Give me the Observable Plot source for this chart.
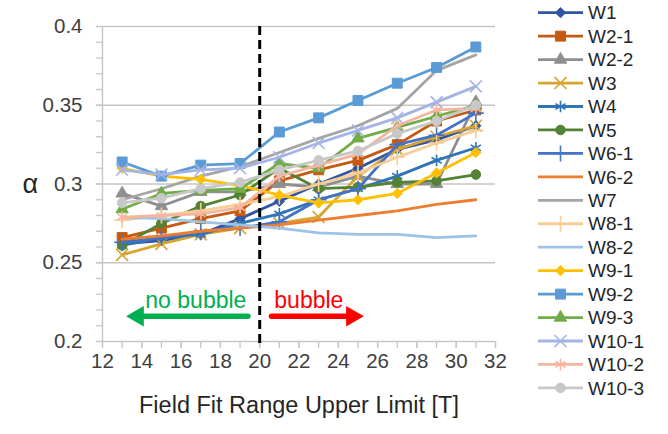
<!DOCTYPE html>
<html><head><meta charset="utf-8">
<script src="https://cdn.jsdelivr.net/npm/d3@7"></script>
<script src="https://cdn.jsdelivr.net/npm/@observablehq/plot@0.6"></script>
<style>
body{margin:0;background:#fff;font-family:"Liberation Sans",Arial,sans-serif;}
#wrap{position:relative;width:668px;height:434px;overflow:hidden;}
#wrap svg{position:absolute;left:0;top:0;}
</style></head><body><div id="wrap"></div>
<script>
// ---- data ----
const fieldLimits = [13, 15, 17, 19, 21, 23, 25, 27, 29, 31];
const seriesNames = ["W1","W2-1","W2-2","W3","W4","W5","W6-1","W6-2","W7","W8-1","W8-2","W9-1","W9-2","W9-3","W10-1","W10-2","W10-3"];
const W1    = [0.262, 0.264, 0.268, 0.278, 0.289, 0.300, 0.310, 0.322, 0.328, 0.337];
const W2_1  = [0.266, 0.272, 0.278, 0.283, 0.302, 0.309, 0.315, 0.325, 0.340, 0.347];
const W2_2  = [0.294, 0.286, 0.295, 0.295, 0.300, 0.298, 0.305, 0.300, 0.300, 0.352];
const W3    = [0.255, 0.262, 0.268, 0.272, 0.275, 0.279, 0.305, 0.322, 0.330, 0.337];
const W4    = [0.261, 0.266, 0.268, 0.275, 0.281, 0.290, 0.297, 0.305, 0.315, 0.323];
const W5    = [0.261, 0.275, 0.286, 0.293, 0.310, 0.297, 0.298, 0.301, 0.302, 0.306];
const W6_1  = [0.263, 0.266, 0.270, 0.272, 0.276, 0.290, 0.297, 0.325, 0.331, 0.345];
const W6_2  = [0.265, 0.267, 0.270, 0.272, 0.274, 0.277, 0.280, 0.283, 0.287, 0.290];
const W7    = [0.290, 0.297, 0.305, 0.311, 0.320, 0.329, 0.337, 0.348, 0.372, 0.382];
const W8_1  = [0.277, 0.280, 0.283, 0.287, 0.292, 0.300, 0.307, 0.317, 0.326, 0.334];
const W8_2  = [0.279, 0.278, 0.276, 0.274, 0.272, 0.269, 0.268, 0.268, 0.266, 0.267];
const W9_1  = [0.310, 0.305, 0.303, 0.299, 0.293, 0.288, 0.290, 0.294, 0.307, 0.320];
const W9_2  = [0.314, 0.305, 0.312, 0.313, 0.333, 0.342, 0.353, 0.364, 0.374, 0.387];
const W9_3  = [0.284, 0.294, 0.296, 0.297, 0.313, 0.310, 0.329, 0.336, 0.343, 0.350];
const W10_1 = [0.309, 0.306, 0.309, 0.310, 0.317, 0.326, 0.334, 0.342, 0.352, 0.362];
const W10_2 = [0.279, 0.280, 0.281, 0.285, 0.305, 0.312, 0.319, 0.337, 0.347, 0.348];
const W10_3 = [0.288, 0.291, 0.297, 0.301, 0.309, 0.315, 0.321, 0.332, 0.340, 0.350];
const seriesValues = [W1, W2_1, W2_2, W3, W4, W5, W6_1, W6_2, W7, W8_1, W8_2, W9_1, W9_2, W9_3, W10_1, W10_2, W10_3];

const xTicks = [12, 14, 16, 18, 20, 22, 24, 26, 28, 30, 32];
const xMinorTicks = [12,13,14,15,16,17,18,19,20,21,22,23,24,25,26,27,28,29,30,31,32];
const yTicks = [0.2, 0.25, 0.3, 0.35, 0.4];
const yMinorTicks = [0.2,0.21,0.22,0.23,0.24,0.25,0.26,0.27,0.28,0.29,0.3,0.31,0.32,0.33,0.34,0.35,0.36,0.37,0.38,0.39,0.4];
const splitField = [20];
const arrowNames = ["no bubble", "bubble"];
const arrowFrom = [19.4, 20.6];
const arrowTo = [13.2, 25.3];
const arrowLevel = [0.216, 0.216];
const arrowTextX = [16.75, 22.5];
const arrowTextY = [0.226, 0.226];
const xTitle = "Field Fit Range Upper Limit [T]";
const yTitle = "α";

// ---- styles ----
const seriesColors = ["#2F55A4","#C55A11","#8F8F8F","#D6A531","#2E75B6","#548235","#4472C4","#ED7D31","#A5A5A5","#F8CD96","#9DC3E6","#FFC000","#5B9BD5","#70AD47","#A4B4E4","#F4B6A0","#C8C8C8"];
const seriesSymbols = ["diamond2","square","triangle","times","asterisk","circle","plus",null,null,"plus",null,"diamond2","square","triangle","times","asterisk","circle"];
const symbolR = {diamond2:4.6, square:5.6, triangle:4.6, circle:4.8, times:5.5, asterisk:5.5, plus:5.2};
const filledSymbols = new Set(["diamond2","square","triangle","circle"]);
const arrowColors = ["#00B050", "#FF0000"];

const marks = [
  Plot.gridY(yTicks.slice(1), {stroke:"#C6C6C6", strokeOpacity:1, strokeWidth:1.4}),
  Plot.ruleY([yTicks[0]], {stroke:"#C6C6C6", strokeWidth:1.4}),
  Plot.ruleX([xTicks[0]], {stroke:"#C6C6C6", strokeWidth:1.4}),
  Plot.axisY({ticks: yMinorTicks, tickSize: 6, tickFormat: () => "", stroke:"#C6C6C6", strokeWidth:1.3, label:null}),
  Plot.axisY({ticks: yTicks, tickSize: 6, tickPadding: 14, tickFormat: d => String(+d.toFixed(2)), stroke:"#C6C6C6", strokeWidth:1.3, fill:"#404040", fontSize:20.5, label:null}),
  Plot.axisX({ticks: xMinorTicks, tickSize: 7, tickFormat: () => "", stroke:"#C6C6C6", strokeWidth:1.3, label:null}),
  Plot.axisX({ticks: xTicks, tickSize: 7, tickPadding: 5, stroke:"#C6C6C6", strokeWidth:1.3, fill:"#404040", fontSize:20.5, label:null}),
  Plot.text([xTitle], {frameAnchor:"bottom", dy:71, fontSize:23.5, fill:"#262626"}),
  Plot.text([yTitle], {frameAnchor:"left", dx:-80, fontSize:27, fill:"#262626"})
];

seriesNames.forEach((name, i) => {
  const rows = fieldLimits.map((x, j) => ({x, y: seriesValues[i][j]}));
  marks.push(Plot.line(rows, {x:"x", y:"y", stroke: seriesColors[i], strokeWidth: 2.8}));
  const sym = seriesSymbols[i];
  if (sym) {
    const filled = filledSymbols.has(sym);
    marks.push(Plot.dot(rows, {x:"x", y:"y", symbol: sym, r: symbolR[sym],
      fill: filled ? seriesColors[i] : "none", stroke: seriesColors[i], strokeWidth: filled ? 1 : 1.6}));
  }
});

marks.push(Plot.ruleX(splitField, {stroke:"#000", strokeWidth:3, strokeDasharray:"9,5", insetBottom:-4}));

arrowNames.forEach((name, i) => {
  const dir = arrowTo[i] > arrowFrom[i] ? 1 : -1;
  const a = [{x1: arrowFrom[i], x2: arrowTo[i], y: arrowLevel[i]}];
  marks.push(Plot.arrow(a, {x1:"x1", x2:"x2", y1:"y", y2:"y", stroke: arrowColors[i], strokeWidth: 5.5, headLength: 0, insetEnd: 15}));
  marks.push(Plot.dot(a, {x:"x2", y:"y", symbol:"triangle", r:7.6, rotate: 90*dir, dx: -11.8*dir, fill: arrowColors[i], stroke:"none"}));
  marks.push(Plot.text([name], {x: () => arrowTextX[i], y: () => arrowTextY[i], fontSize: 23, fill: arrowColors[i]}));
});

const chart = Plot.plot({
  width: 668, height: 434,
  marginLeft: 102, marginRight: 173, marginTop: 26, marginBottom: 93,
  x: {domain: [12, 32]},
  y: {domain: [0.2, 0.4]},
  style: {fontFamily: '"Liberation Sans", Arial, sans-serif', background: "white"},
  marks
});
const wrap = document.getElementById("wrap");
wrap.appendChild(chart);

// ---- legend ----
const lg = d3.select(wrap).append("svg").attr("width", 668).attr("height", 434)
  .style("font-family", '"Liberation Sans", Arial, sans-serif');
const d3sym = {diamond2: d3.symbolDiamond2, square: d3.symbolSquare, triangle: d3.symbolTriangle, circle: d3.symbolCircle, times: d3.symbolTimes, asterisk: d3.symbolAsterisk, plus: d3.symbolPlus};
seriesNames.forEach((name, i) => {
  const y = 12.7 + i * 23.45;
  const g = lg.append("g");
  g.append("line").attr("x1", 538).attr("x2", 583).attr("y1", y).attr("y2", y)
    .attr("stroke", seriesColors[i]).attr("stroke-width", 2.8);
  const sym = seriesSymbols[i];
  if (sym) {
    const r = symbolR[sym];
    const filled = filledSymbols.has(sym);
    g.append("path").attr("d", d3.symbol(d3sym[sym], r * r * Math.PI)())
      .attr("transform", `translate(560.5,${y})`)
      .attr("fill", filled ? seriesColors[i] : "none").attr("stroke", seriesColors[i])
      .attr("stroke-width", filled ? 1 : 1.6);
  }
  g.append("text").attr("x", 588).attr("y", y).attr("dy", "0.35em")
    .attr("font-size", 19).attr("fill", "#262626").text(name);
});
</script></body></html>
